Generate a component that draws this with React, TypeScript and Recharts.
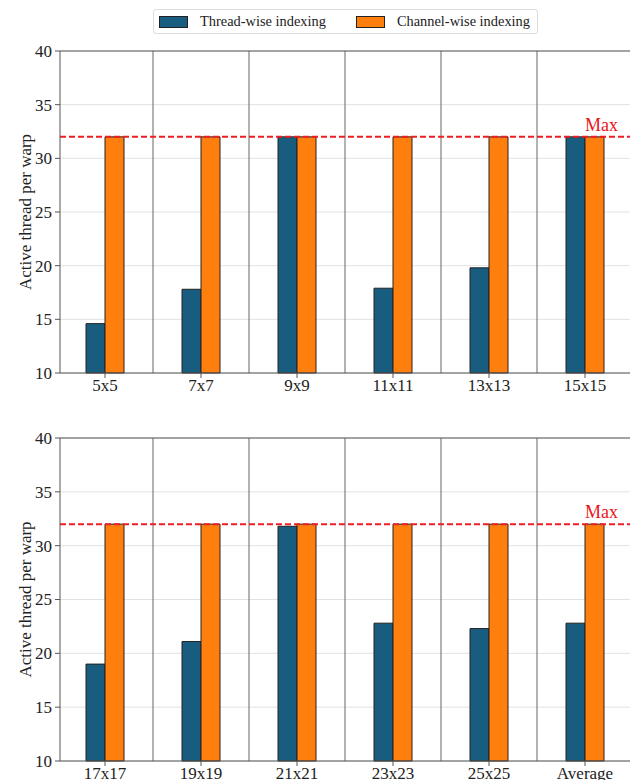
import React from 'react';
import { ComposedChart, Bar, XAxis, YAxis, CartesianGrid, ReferenceLine, Legend } from 'recharts';

// kernel sizes per panel and active threads per warp for each indexing scheme
const topKernels = ['5x5', '7x7', '9x9', '11x11', '13x13', '15x15'];
const topThreadWise = [14.6, 17.8, 32, 17.9, 19.8, 32];
const topChannelWise = [32, 32, 32, 32, 32, 32];

const bottomKernels = ['17x17', '19x19', '21x21', '23x23', '25x25', 'Average'];
const bottomThreadWise = [19.0, 21.1, 31.8, 22.8, 22.3, 22.8];
const bottomChannelWise = [32, 32, 32, 32, 32, 32];

const yTicks = [10, 15, 20, 25, 30, 35, 40];
const WARP_MAX = 32;
const seriesOrder = ['thread', 'channel'];

const FONT = '"Liberation Serif", "DejaVu Serif", serif';
const BLUE = '#185d80';
const ORANGE = '#ff7f0e';
const SPINE = '#555';

const buildRows = (kernels: string[], thread: number[], channel: number[]) =>
  kernels.map((k, i) => ({ kernel: k, thread: thread[i], channel: channel[i] }));

const LegendBox = ({ payload }: any) => {
  const items = [...(payload || [])].sort(
    (a: any, b: any) => seriesOrder.indexOf(a.dataKey) - seriesOrder.indexOf(b.dataKey)
  );
  return (
    <div
      style={{
        display: 'inline-flex',
        alignItems: 'center',
        height: 25,
        border: '1px solid #ddd',
        borderRadius: 3,
        background: '#fff',
        padding: '0 7px 0 5px',
        boxSizing: 'border-box',
        fontFamily: FONT,
        fontSize: 14.4,
        color: '#222',
        whiteSpace: 'nowrap',
      }}
    >
      {items.map((p: any, i: number) => (
        <div key={p.value} style={{ display: 'flex', alignItems: 'center', marginLeft: i ? 30 : 0 }}>
          <span
            style={{
              display: 'inline-block',
              width: 29,
              height: 12,
              background: p.color,
              border: '1px solid #222',
              boxSizing: 'border-box',
              marginRight: 12,
            }}
          />
          <span>{p.value}</span>
        </div>
      ))}
    </div>
  );
};

// serif tick text for both axes
const XTick = ({ x, y, payload }: any) => (
  <text x={x} y={y} dy="0.71em" textAnchor="middle" fill="#222" fontSize={17} fontFamily={FONT}>
    {payload.value}
  </text>
);

const YTick = ({ x, y, payload }: any) => (
  <text x={x} y={y} dy="0.35em" textAnchor="end" fill="#222" fontSize={17} fontFamily={FONT}>
    {payload.value}
  </text>
);

const MaxLabel = ({ viewBox }: any) => (
  <text
    x={viewBox.x + viewBox.width - 12}
    y={viewBox.y - 6}
    textAnchor="end"
    fill="#e8141a"
    fontSize={18}
    fontFamily={FONT}
  >
    Max
  </text>
);

const YTitle = ({ viewBox }: any) => {
  const cx = 25;
  const cy = viewBox.y + viewBox.height / 2;
  return (
    <text
      x={cx}
      y={cy}
      transform={`rotate(-90, ${cx}, ${cy})`}
      textAnchor="middle"
      dominantBaseline="central"
      fill="#222"
      fontSize={17}
      fontFamily={FONT}
    >
      Active thread per warp
    </text>
  );
};

interface PanelProps {
  kernels: string[];
  thread: number[];
  channel: number[];
  top: number;
  axisHeight: number;
  withLegend?: boolean;
}

const Panel = ({ kernels, thread, channel, top, axisHeight, withLegend }: PanelProps) => {
  const rows = buildRows(kernels, thread, channel);
  return (
    <ComposedChart
      width={640}
      height={400}
      data={rows}
      margin={{ top, right: 10, bottom: 0, left: 0 }}
      barGap={0}
    >
      <CartesianGrid vertical={false} stroke="#e2e2e2" />
      <XAxis
        dataKey="kernel"
        height={axisHeight}
        padding={{ left: -3, right: -3 }}
        axisLine={{ stroke: SPINE }}
        tickLine={{ stroke: SPINE }}
        tickSize={5}
        tickMargin={1}
        tick={(props: any) => <XTick {...props} />}
        interval={0}
      />
      <YAxis
        width={60}
        domain={[10, 40]}
        ticks={yTicks}
        axisLine={{ stroke: SPINE }}
        tickLine={{ stroke: SPINE }}
        tickSize={5}
        tickMargin={3}
        tick={(props: any) => <YTick {...props} />}
        label={(props: any) => <YTitle {...props} />}
      />
      {kernels.slice(0, -1).map((k) => (
        <ReferenceLine key={k} x={k} position="end" stroke="#666" />
      ))}
      <ReferenceLine y={40} stroke={SPINE} />
      {withLegend && (
        <Legend
          verticalAlign="middle"
          align="center"
          content={(props: any) => <LegendBox {...props} />}
          wrapperStyle={{ top: 9, left: 153, width: 'auto' }}
        />
      )}
      <Bar
        dataKey="thread"
        name="Thread-wise indexing"
        fill={BLUE}
        stroke="#222"
        strokeWidth={1}
        barSize={19}
        isAnimationActive={false}
      />
      <Bar
        dataKey="channel"
        name="Channel-wise indexing"
        fill={ORANGE}
        stroke="#222"
        strokeWidth={1}
        barSize={19}
        isAnimationActive={false}
      />
      <ReferenceLine
        y={WARP_MAX}
        stroke="#ee1c25"
        strokeWidth={2}
        strokeDasharray="6 3"
        label={(props: any) => <MaxLabel {...props} />}
      />
    </ComposedChart>
  );
};

export default function App() {
  return (
    <div
      style={{
        position: 'absolute',
        left: 0,
        top: 0,
        width: 630,
        height: 780,
        overflow: 'hidden',
        background: '#fff',
        fontFamily: FONT,
      }}
    >
      <div style={{ position: 'absolute', left: 0, top: 0 }}>
        <Panel
          kernels={topKernels}
          thread={topThreadWise}
          channel={topChannelWise}
          top={51}
          axisHeight={27}
          withLegend
        />
      </div>
      <div style={{ position: 'absolute', left: 0, top: 400 }}>
        <Panel
          kernels={bottomKernels}
          thread={bottomThreadWise}
          channel={bottomChannelWise}
          top={38}
          axisHeight={39}
        />
      </div>
    </div>
  );
}
